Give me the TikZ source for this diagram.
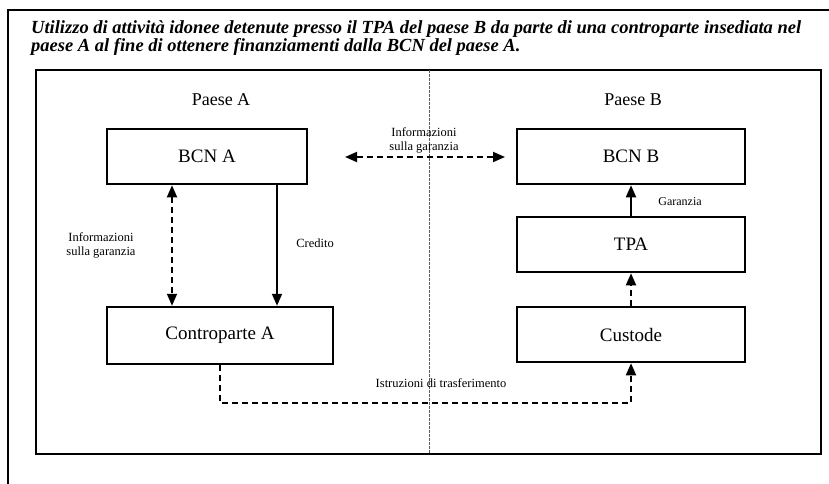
\documentclass[tikz,border=0pt]{standalone}
\usepackage{fontspec}
\setmainfont{Liberation Serif}
\usetikzlibrary{arrows.meta}
\begin{document}
\begin{tikzpicture}[x=1pt,y=-1pt,
  box/.style={draw,line width=2.5pt,inner sep=0pt,font=\fontsize{19}{22}\selectfont},
  lbl/.style={inner sep=0pt,font=\fontsize{12.5}{14}\selectfont,align=center},
  frame/.style={line width=2.5pt},
  conn/.style={line width=1.8pt,-{Triangle[width=10pt,length=12pt]}},
  dconn/.style={conn,dash pattern=on 6pt off 4pt},
  ddconn/.style={dconn,{Triangle[width=10pt,length=12pt]}-{Triangle[width=10pt,length=12pt]}}
]
\useasboundingbox (0,0) rectangle (829,484);
% frames
\draw[frame] (8,484) -- (8,10) -- (829,10);
\draw[frame] (36,70) rectangle (821,454);
\draw[gray!70!black,line width=1pt,dash pattern=on 3pt off 1pt] (429,70) -- (429,454);
% title
\node[anchor=north west,inner sep=0pt,align=left,font=\fontsize{18.5}{18.5}\bfseries\itshape\selectfont] (title) at (31,20)
  {Utilizzo di attività idonee detenute presso il TPA del paese B da parte di una controparte insediata nel\\
   paese A al fine di ottenere finanziamenti dalla BCN del paese A.};
% headers
\node[font=\fontsize{18}{20}\selectfont] (pa) at (221,100) {Paese A};
\node[font=\fontsize{18}{20}\selectfont] (pb) at (633,100) {Paese B};
% boxes
\node[box,minimum width=200pt,minimum height=55pt] (bcna) at (207,156.5) {BCN A};
\node[box,minimum width=226pt,minimum height=57pt] (cpa) at (220,335.5) {Controparte A};
\node[box,minimum width=228pt,minimum height=55pt] (bcnb) at (631,156.5) {BCN B};
\node[box,minimum width=228pt,minimum height=55pt] (tpa) at (631,244.5) {TPA};
\node[box,minimum width=228pt,minimum height=55pt] (cus) at (631,334.5) {Custode};
% connectors
\coordinate (hl) at (345,157);
\coordinate (hr) at (505,157);
\draw[ddconn] (hl) -- (hr);
\draw[ddconn] (bcna.south -| 172,0) -- (cpa.north -| 172,0);
\draw[conn] (bcna.south -| 277,0) -- (cpa.north -| 277,0);
\draw[conn] (tpa.north) -- (bcnb.south);
\draw[dconn] (cus.north) -- (tpa.south);
\coordinate (b1) at (220,403);
\coordinate (b2) at (631,403);
\draw[dconn] (cpa.south) -- (b1) -- (b2) -- (cus.south);
% labels
\node[lbl] (l1) at (424,140) {Informazioni\\sulla garanzia};
\node[lbl] (l2) at (101,245) {Informazioni\\sulla garanzia};
\node[lbl] (l3) at (315,243) {Credito};
\node[lbl,font=\fontsize{12}{14}\selectfont] (l4) at (680,202) {Garanzia};
\node[lbl] (l5) at (441,383) {Istruzioni di trasferimento};
\end{tikzpicture}
\end{document}
